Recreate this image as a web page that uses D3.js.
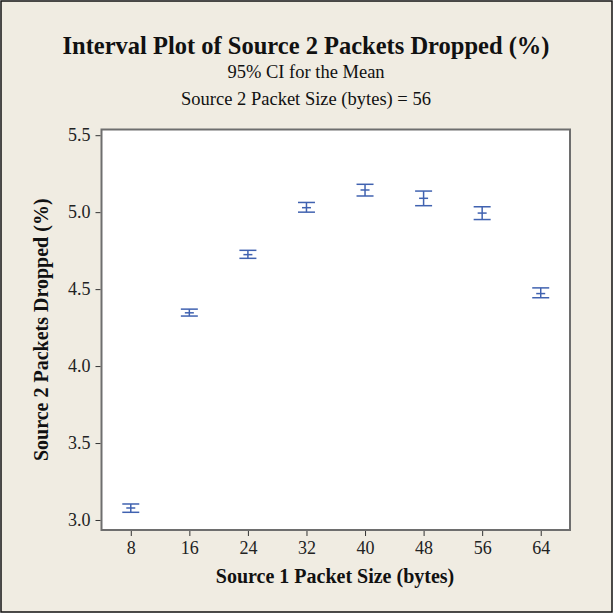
<!DOCTYPE html>
<html>
<head>
<meta charset="utf-8">
<script src="https://cdn.jsdelivr.net/npm/d3@7"></script>
<style>
  body { margin: 0; background: #fff; }
</style>
</head>
<body>
<svg width="613" height="615"></svg>
<script>
// Interval plot data
const packetSizes = [8, 16, 24, 32, 40, 48, 56, 64];
const means = [3.078, 4.346, 4.724, 5.029, 5.144, 5.090, 4.994, 4.471];
const lower = [3.050, 4.325, 4.700, 5.000, 5.105, 5.042, 4.952, 4.444];
const upper = [3.104, 4.370, 4.752, 5.063, 5.181, 5.137, 5.035, 4.508];
const yTicks = [3.0, 3.5, 4.0, 4.5, 5.0, 5.5];

const font = "Liberation Serif, Times New Roman, serif";
const svg = d3.select("svg").attr("font-family", font);

// frame + background
svg.append("rect")
    .attr("x", 1).attr("y", 1)
    .attr("width", 611).attr("height", 611)
    .attr("fill", "#f0ece2")
    .attr("stroke", "#111")
    .attr("stroke-width", 1.5);

const margin = {top: 129.5, left: 101.5, bottom: 530, right: 570};

const xScale = d3.scalePoint()
    .domain(packetSizes)
    .range([margin.left, margin.right])
    .padding(0.5);

const yScale = d3.scaleLinear()
    .domain([2.935, 5.537])
    .range([margin.bottom, margin.top]);

// plot area
svg.append("rect")
    .attr("x", margin.left).attr("y", margin.top)
    .attr("width", margin.right - margin.left)
    .attr("height", margin.bottom - margin.top)
    .attr("fill", "#fff")
    .attr("stroke", "#6e6e6e")
    .attr("stroke-width", 2);

const xAxis = svg.append("g")
    .attr("transform", `translate(0, ${margin.bottom + 1})`)
    .call(d3.axisBottom(xScale).tickSize(5).tickPadding(5));
xAxis.attr("font-family", font).attr("font-size", 18);
xAxis.select(".domain").remove();
xAxis.selectAll("text").attr("fill", "#222");
xAxis.selectAll("line").attr("stroke", "#333");

const yAxis = svg.append("g")
    .attr("transform", `translate(${margin.left - 1}, 0)`)
    .call(d3.axisLeft(yScale).tickValues(yTicks).tickFormat(d3.format(".1f")).tickSize(5).tickPadding(5));
yAxis.attr("font-family", font).attr("font-size", 18);
yAxis.select(".domain").remove();
yAxis.selectAll("text").attr("fill", "#222");
yAxis.selectAll("line").attr("stroke", "#333");

// titles
svg.append("text")
    .attr("x", 306).attr("y", 54)
    .attr("text-anchor", "middle")
    .attr("font-size", 24.5).attr("font-weight", "bold")
    .attr("fill", "#111")
    .text("Interval Plot of Source 2 Packets Dropped (%)");

svg.append("text")
    .attr("x", 306).attr("y", 78)
    .attr("text-anchor", "middle")
    .attr("font-size", 18.5).attr("fill", "#111")
    .text("95% CI for the Mean");

svg.append("text")
    .attr("x", 306).attr("y", 105)
    .attr("text-anchor", "middle")
    .attr("font-size", 18.5).attr("fill", "#111")
    .text("Source 2 Packet Size (bytes) = 56");

svg.append("text")
    .attr("x", 335).attr("y", 583)
    .attr("text-anchor", "middle")
    .attr("font-size", 20).attr("font-weight", "bold")
    .attr("fill", "#111")
    .text("Source 1 Packet Size (bytes)");

svg.append("text")
    .attr("transform", `translate(48, ${(margin.top + margin.bottom) / 2}) rotate(-90)`)
    .attr("text-anchor", "middle")
    .attr("font-size", 20).attr("font-weight", "bold")
    .attr("fill", "#111")
    .text("Source 2 Packets Dropped (%)");

// interval marks
const blue = "#4062b0";
const g = svg.append("g").attr("stroke", blue).attr("stroke-width", 1.5);
const capW = 8.5, meanW = 4.5;

const marks = g.selectAll("g.iv").data(packetSizes)
    .enter().append("g").attr("class", "iv");

marks.append("line")
    .attr("x1", d => xScale(d)).attr("x2", d => xScale(d))
    .attr("y1", (d, i) => yScale(upper[i])).attr("y2", (d, i) => yScale(lower[i]));
marks.append("line")
    .attr("x1", d => xScale(d) - capW).attr("x2", d => xScale(d) + capW)
    .attr("y1", (d, i) => yScale(upper[i])).attr("y2", (d, i) => yScale(upper[i]));
marks.append("line")
    .attr("x1", d => xScale(d) - capW).attr("x2", d => xScale(d) + capW)
    .attr("y1", (d, i) => yScale(lower[i])).attr("y2", (d, i) => yScale(lower[i]));
marks.append("line")
    .attr("x1", d => xScale(d) - meanW).attr("x2", d => xScale(d) + meanW)
    .attr("y1", (d, i) => yScale(means[i])).attr("y2", (d, i) => yScale(means[i]));
</script>
</body>
</html>
